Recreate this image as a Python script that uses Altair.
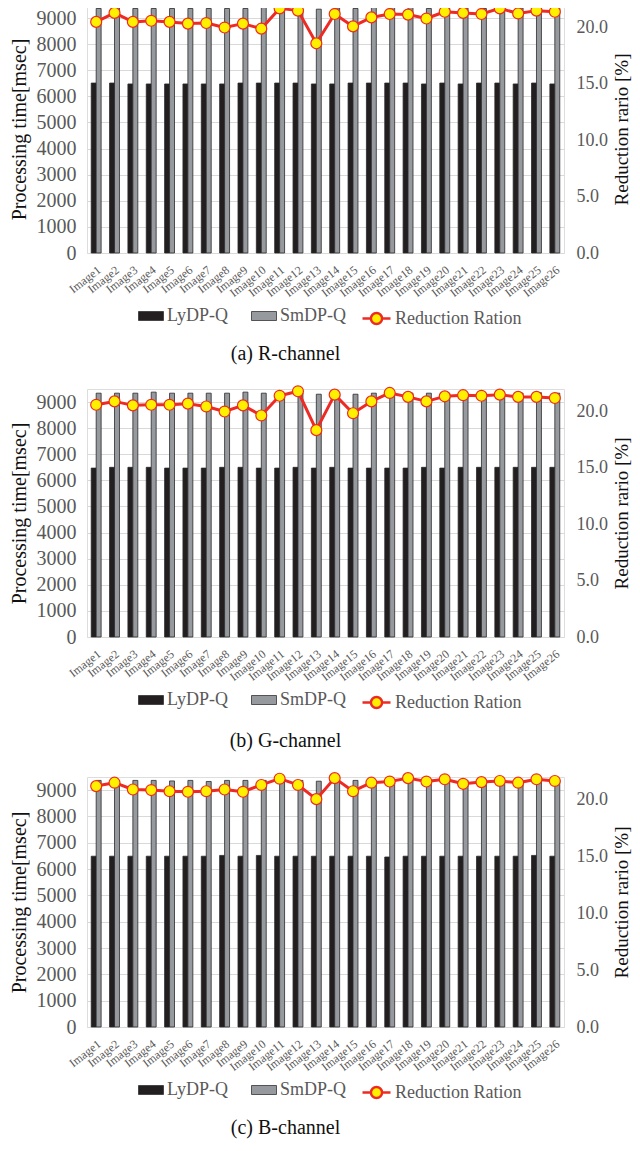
import altair as alt
import pandas as pd

images = ["Image1", "Image2", "Image3", "Image4", "Image5", "Image6", "Image7",
          "Image8", "Image9", "Image10", "Image11", "Image12", "Image13", "Image14",
          "Image15", "Image16", "Image17", "Image18", "Image19", "Image20", "Image21",
          "Image22", "Image23", "Image24", "Image25", "Image26"]

# R-channel
ly_r = [6510, 6510, 6475, 6475, 6475, 6475, 6475, 6475, 6510, 6510, 6510, 6510, 6475,
        6475, 6510, 6510, 6510, 6510, 6475, 6510, 6475, 6510, 6510, 6475, 6510, 6475]
sm_r = [9366, 9405, 9366, 9366, 9366, 9366, 9366, 9366, 9366, 9405, 9400, 9340, 9340,
        9392, 9366, 9417, 9405, 9405, 9366, 9390, 9392, 9366, 9392, 9392, 9405, 9392]
rr_r = [20.5, 21.3, 20.5, 20.6, 20.5, 20.35, 20.4, 20.0, 20.35, 19.9, 21.7, 21.5, 18.6,
        21.2, 20.1, 20.9, 21.2, 21.15, 20.8, 21.4, 21.3, 21.2, 21.7, 21.25, 21.5, 21.4]

# G-channel
ly_g = [6470, 6500, 6500, 6500, 6470, 6470, 6470, 6500, 6500, 6470, 6470, 6500, 6470,
        6500, 6470, 6470, 6470, 6470, 6500, 6470, 6500, 6500, 6500, 6500, 6500, 6500]
sm_g = [9340, 9340, 9340, 9380, 9340, 9340, 9340, 9340, 9380, 9340, 9340, 9340, 9300,
        9340, 9300, 9340, 9340, 9340, 9340, 9340, 9340, 9340, 9340, 9340, 9360, 9340]
rr_g = [20.6, 20.9, 20.55, 20.6, 20.6, 20.7, 20.45, 20.0, 20.55, 19.65, 21.4, 21.8, 18.35,
        21.5, 19.85, 20.9, 21.65, 21.3, 20.9, 21.35, 21.45, 21.4, 21.5, 21.3, 21.3, 21.2]

# B-channel
ly_b = [6490, 6490, 6490, 6490, 6490, 6490, 6490, 6520, 6490, 6520, 6490, 6490, 6490,
        6490, 6490, 6490, 6460, 6490, 6490, 6490, 6490, 6490, 6490, 6490, 6520, 6490]
sm_b = [9370, 9370, 9370, 9370, 9350, 9370, 9330, 9370, 9370, 9370, 9370, 9370, 9340,
        9370, 9370, 9370, 9370, 9370, 9370, 9370, 9370, 9370, 9370, 9370, 9370, 9370]
rr_b = [21.2, 21.5, 20.9, 20.85, 20.75, 20.7, 20.75, 20.9, 20.7, 21.3, 21.85, 21.3, 20.05,
        21.9, 20.75, 21.5, 21.6, 21.9, 21.6, 21.8, 21.4, 21.55, 21.65, 21.5, 21.8, 21.65]

methods = ["LyDP-Q", "SmDP-Q"]
line_name = "Reduction Ration"
left_ticks = [0, 1000, 2000, 3000, 4000, 5000, 6000, 7000, 8000, 9000]
right_ticks = [0, 5, 10, 15, 20]

FONT = "Liberation Serif"
GRAY_TXT = "#595959"
RED = "#ee2a24"
YELLOW = "#fff000"

rect_path = "M-1,-0.36H1V0.36H-1Z"
line_path = ("M-1,0H-0.4M0.4,0H1M0.4,0A0.4,0.4 0 1,1 -0.4,0"
             "A0.4,0.4 0 1,1 0.4,0Z")


def panel(ly, sm, rr, caption, ph, cap_offset):
    bars_df = pd.DataFrame({
        "image": images + images,
        "method": [methods[0]] * len(images) + [methods[1]] * len(images),
        "time": ly + sm,
    })
    line_df = pd.DataFrame({"image": images, "series": [line_name] * len(images), "ratio": rr})

    x_enc = alt.X(
        "image:N", sort=images, title=None,
        scale=alt.Scale(paddingInner=0.46, paddingOuter=0.23),
        axis=alt.Axis(labelAngle=322, labelAlign="right", labelBaseline="top",
                      labelFontSize=12, labelFont=FONT, labelColor=GRAY_TXT,
                      labelPadding=11, ticks=False, domain=False, grid=False),
    )

    bars = alt.Chart(bars_df).mark_bar(strokeWidth=0.8).encode(
        x=x_enc,
        xOffset=alt.XOffset("method:N", sort=methods,
                            scale=alt.Scale(paddingInner=0, paddingOuter=0)),
        y=alt.Y("time:Q", scale=alt.Scale(domain=[0, 9500], nice=False),
                axis=alt.Axis(values=left_ticks, format="d", title="Processing time[msec]",
                              labelFontSize=20, labelFont=FONT, labelColor=GRAY_TXT,
                              labelPadding=11, ticks=False, domain=False,
                              grid=True, gridColor="#d9d9d9",
                              titleFont=FONT, titleFontSize=20, titleFontWeight="normal",
                              titleColor="#111111", titlePadding=7)),
        color=alt.Color("method:N", sort=methods,
                        scale=alt.Scale(domain=methods, range=["#231f20", "#96999e"]),
                        legend=alt.Legend(title=None, orient="none", legendX=51,
                                          legendY=ph + 50,
                                          direction="horizontal", symbolType=rect_path,
                                          symbolSize=625, symbolStrokeColor="#333333",
                                          symbolStrokeWidth=0.8, labelFont=FONT,
                                          labelFontSize=18, labelColor=GRAY_TXT,
                                          labelOffset=3, columnPadding=20)),
        stroke=alt.value("#2a2a2a"),
    )

    y_right = alt.Y("ratio:Q", scale=alt.Scale(domain=[0, 22], nice=False),
                    axis=alt.Axis(orient="right", values=right_ticks, format=".1f",
                                  title="Reduction rario [%]", labelFontSize=18,
                                  labelFont=FONT, labelColor=GRAY_TXT, labelPadding=12,
                                  ticks=False, domain=False, grid=False,
                                  titleFont=FONT, titleFontSize=19, titleAngle=270,
                                  titleBaseline="top",
                                  titleFontWeight="normal", titleColor="#111111",
                                  titlePadding=5))

    line = alt.Chart(line_df).mark_line(strokeWidth=3, color=RED, strokeJoin="round").encode(
        x=x_enc, y=y_right,
    )
    pts = alt.Chart(line_df).mark_point(filled=False, size=120, fill=YELLOW, fillOpacity=1,
                                        opacity=1, strokeWidth=1.2).encode(
        x=x_enc, y=y_right,
        stroke=alt.Stroke("series:N", scale=alt.Scale(domain=[line_name], range=[RED]),
                          legend=alt.Legend(title=None, orient="none", legendX=274,
                                            legendY=ph + 50, symbolType=line_path,
                                            symbolSize=784, symbolStrokeWidth=2.5,
                                            symbolFillColor=YELLOW, labelFont=FONT,
                                            labelFontSize=18, labelColor=GRAY_TXT,
                                            labelOffset=3)),
    )

    right = alt.layer(line, pts)
    return alt.layer(bars, right).resolve_scale(y="independent").properties(
        width=477, height=ph,
        title=alt.TitleParams(caption, orient="bottom", anchor="middle", fontSize=20,
                              font=FONT, fontWeight="normal", color="#111111",
                              offset=cap_offset, dx=-40),
    )


chart = alt.vconcat(
    panel(ly_r, sm_r, rr_r, "(a) R-channel", 248, 14),
    panel(ly_g, sm_g, rr_g, "(b) G-channel", 248, 17),
    panel(ly_b, sm_b, rr_b, "(c) B-channel", 250, 14),
    spacing=17,
).resolve_scale(color="independent", stroke="independent", y="independent"
).resolve_legend(color="independent", stroke="independent"
).properties(padding={"left": 0, "top": -8, "right": 0, "bottom": 0}
).configure_view(stroke="#d9d9d9", strokeWidth=1
).configure(background="white", font=FONT)

chart.save("out.html", embed_options={"renderer": "svg", "actions": False})
